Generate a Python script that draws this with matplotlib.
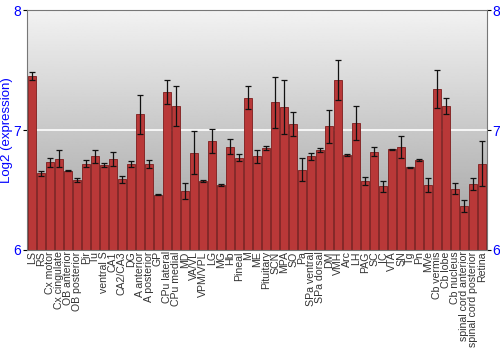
import numpy as np
import matplotlib
matplotlib.use("Agg")
import matplotlib.pyplot as plt

plt.rcParams['font.family'] = ['Liberation Sans', 'DejaVu Sans']

regions = ["LS", "RS", "Cx motor", "Cx cingulate", "OB anterior", "OB posterior",
           "Pir", "Tu", "ventral S", "CA1", "CA2/CA3", "DG", "A anterior",
           "A posterior", "GP", "CPu lateral", "CPu medial", "MD", "VA/VL",
           "VPM/VPL", "LG", "MG", "Hb", "Pineal", "M", "ME", "Pituitary", "SCN",
           "MPA", "SO", "Pa", "SPa ventral", "SPa dorsal", "DM", "VMH", "Arc",
           "LH", "PAG", "SC", "IC", "VTA", "SN", "Tg", "Pn", "MVe", "Cb vermis",
           "Cb lobe", "Cb nucleus", "spinal cord anterior",
           "spinal cord posterior", "Retina"]

expr = [7.45, 6.64, 6.73, 6.76, 6.66, 6.58, 6.72, 6.78, 6.71, 6.76, 6.59, 6.72,
        7.13, 6.72, 6.46, 7.32, 7.20, 6.49, 6.81, 6.575, 6.91, 6.54, 6.86, 6.77,
        7.27, 6.78, 6.85, 7.23, 7.19, 7.05, 6.67, 6.78, 6.83, 7.03, 7.42, 6.79,
        7.06, 6.575, 6.82, 6.53, 6.84, 6.86, 6.69, 6.75, 6.54, 7.34, 7.20, 6.51,
        6.37, 6.55, 6.72]

err = [0.03, 0.02, 0.04, 0.07, 0.005, 0.017, 0.03, 0.055, 0.017, 0.057, 0.03,
       0.025, 0.16, 0.033, 0.003, 0.10, 0.167, 0.064, 0.18, 0.006, 0.10, 0.008,
       0.064, 0.03, 0.094, 0.053, 0.017, 0.21, 0.225, 0.10, 0.094, 0.03, 0.017,
       0.14, 0.167, 0.008, 0.14, 0.036, 0.036, 0.047, 0.005, 0.09, 0.003, 0.01,
       0.058, 0.16, 0.07, 0.046, 0.05, 0.053, 0.19]

fig = plt.figure(figsize=(5, 3.5), dpi=100)
ax = fig.add_axes([0.054, 0.286, 0.92, 0.685])

# gray gradient background
grad = np.linspace(0.62, 0.95, 256).reshape(-1, 1)
ax.imshow(grad, cmap="gray", vmin=0, vmax=1, aspect="auto", origin="lower",
          extent=[0, 1, 0, 1], transform=ax.transAxes, zorder=0)

x = np.arange(len(regions))
ax.axhline(7, color="white", lw=1.2, zorder=1)
ax.bar(x, np.array(expr) - 6, bottom=6, width=0.86, color="#b93838",
       edgecolor="#7e1c1c", linewidth=0.6, zorder=2)
ax.errorbar(x, expr, yerr=err, fmt="none", ecolor="#111111", elinewidth=0.9,
            capsize=2, capthick=0.9, zorder=3)

ax.set_xlim(-0.55, len(regions) - 0.45)
ax.set_ylim(6, 8)
ax.set_yticks([6, 7, 8])
ax.set_xticks(x)
ax.set_xticklabels(regions, rotation=90, fontsize=7.6, color="#333333")
ax.tick_params(axis="x", length=0, pad=1)
ax.tick_params(axis="y", labelcolor="blue", labelsize=10, length=3, pad=1,
               left=True, right=True, labelleft=True, labelright=True)
ax.set_ylabel("Log2 (expression)", color="blue", fontsize=9.5, labelpad=1)
ax.yaxis.set_label_coords(-0.03, 0.5)
for s in ax.spines.values():
    s.set_color("#777777")

fig.savefig("out.png")
